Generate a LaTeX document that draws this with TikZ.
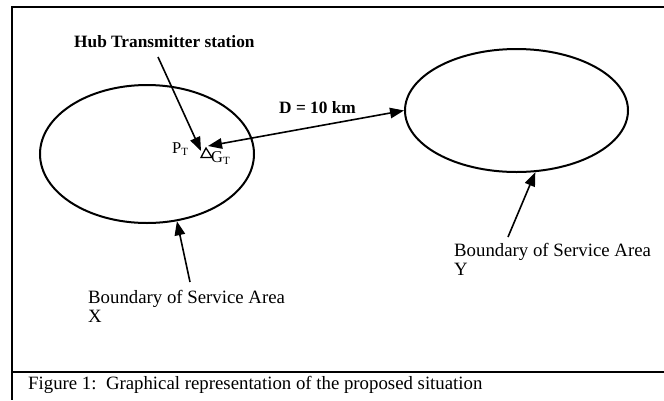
\documentclass[tikz,border=0pt]{standalone}
\usepackage{fontspec}
\setmainfont{Liberation Serif}
\usetikzlibrary{arrows.meta,shapes.geometric}
\newcommand{\subT}{\raisebox{-0.35ex}{\fontsize{11}{11}\selectfont T}}
\begin{document}
\begin{tikzpicture}[x=1pt,y=-1pt,
  frameline/.style={line width=1.8pt},
  area/.style={draw, ellipse, line width=2pt, inner sep=0pt},
  arr/.style={line width=1.6pt, -{Triangle[length=14pt,width=10.5pt]}},
  darr/.style={line width=1.6pt, {Triangle[length=14pt,width=10.5pt]}-{Triangle[length=14pt,width=10.5pt]}},
  lab/.style={anchor=base west, inner sep=0pt, font=\fontsize{18.8}{22}\selectfont},
  blab/.style={anchor=base west, inner sep=0pt, font=\fontsize{17.3}{21}\selectfont\bfseries},
  slab/.style={anchor=base west, inner sep=0pt, font=\fontsize{16.5}{19}\selectfont}]
\useasboundingbox (0,0) rectangle (664,400);
% frame
\coordinate (ftl) at (12,7);
\coordinate (ftr) at (664,7);
\coordinate (fbl) at (12,400);
\coordinate (fsl) at (12,372);
\coordinate (fsr) at (664,372);
\draw[frameline] (ftr) -- (ftl) -- (fbl);
\draw[frameline] (fsl) -- (fsr);
% service areas
\node[area, minimum width=214pt, minimum height=138pt] (areaX) at (147,154) {};
\node[area, minimum width=223pt, minimum height=123pt] (areaY) at (516.5,110.5) {};
% antenna
\coordinate (antA) at (206,148);
\coordinate (antB) at (201,157.5);
\coordinate (antC) at (212,157.5);
\draw[line width=1.3pt] (antA) -- (antB) -- (antC) -- cycle;
\coordinate (hubtip) at (201,151);
\coordinate (dtip) at (208,146);
% labels
\node[blab] (hub) at (74,47) {Hub Transmitter station};
\coordinate (hubtail) at (158,57);
\node[blab] (dist) at (279,113) {D = 10 km};
\node[slab] (pt) at (172,153) {P\subT};
\node[slab] (gt) at (211,162) {G\subT};
\node[lab] (labX) at (88,303) {Boundary of Service Area};
\node[lab] (labXb) at (88,322) {X};
\node[lab] (labY) at (454,256) {Boundary of Service Area};
\node[lab] (labYb) at (454,275) {Y};
\node[lab] (cap) at (28,389) {Figure 1:\ \ Graphical representation of the proposed situation};
% connectors
\coordinate (xtail) at (190,282);
\coordinate (ytail) at (508,237);
\draw[arr] (hubtail) -- (hubtip);
\draw[darr] (dtip) -- (areaY.west);
\draw[arr] (xtail) -- (areaX.-66);
\draw[arr] (ytail) -- (areaY.-73.5);
\end{tikzpicture}
\end{document}
